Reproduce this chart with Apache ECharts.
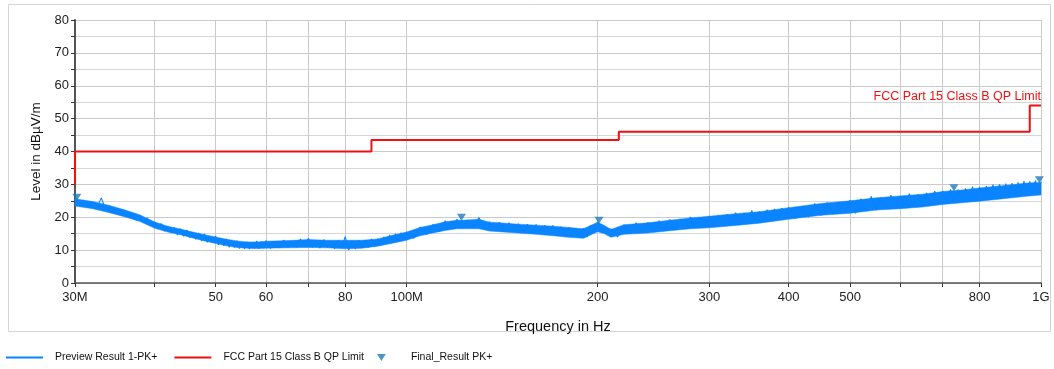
<!DOCTYPE html>
<html>
<head>
<meta charset="utf-8">
<script src="https://cdn.jsdelivr.net/npm/echarts@6/dist/echarts.min.js"></script>
<style>
  html, body { margin: 0; padding: 0; background: #fff; }
  #main { width: 1054px; height: 369px; }
</style>
</head>
<body>
<div id="main"></div>
<script>
// x ticks / labels (MHz)
var tickFreqs = [30, 40, 50, 60, 70, 80, 100, 200, 300, 400, 500, 600, 700, 800, 1000];
var labelFreqs = [30, 50, 60, 80, 100, 200, 300, 400, 500, 800, 1000];
var labelTexts = { 30: "30M", 100: "100M", 1000: "1G" };

// FCC Part 15 Class B QP limit (step line)
var limitFreq = [30, 30, 88, 88, 216, 216, 960, 960, 1000];
var limitLevel = [30, 40, 40, 43.5, 43.5, 46, 46, 54, 54];

// Final_Result PK+ markers
var finalFreq = [30.2, 122, 201, 729, 994];
var finalLevel = [26.1, 20.0, 19.1, 29.0, 31.4];

// Preview trace: band of the noise (lower / upper edge)
var bandFreq = [30, 32, 34, 36, 38, 40, 42, 44, 46, 48, 50, 52, 54, 56, 58, 60, 65, 70, 75, 80,
  85, 90, 95, 100, 105, 110, 115, 120, 125, 130, 135, 140, 150, 160, 170, 180, 190, 200, 205, 210,
  220, 240, 260, 280, 300, 330, 360, 400, 450, 500, 550, 600, 650, 700, 750, 800, 850, 900, 950, 1000];
var bandLow = [23.4, 22.6, 21.4, 20.1, 18.7, 16.7, 15.5, 14.7, 13.7, 12.8, 12.0, 11.3, 10.8, 10.6, 10.5,
  10.6, 10.7, 10.8, 10.7, 10.4, 10.6, 11.2, 12.1,
  13.0, 14.4, 15.2, 16.0, 16.5, 16.5, 16.5, 15.8, 15.6, 15.2, 14.8, 14.4, 13.9, 13.6, 15.6, 15.0, 13.9,
  14.8, 15.2, 15.9, 16.5, 16.8, 17.5, 18.2, 19.4, 20.6, 21.2, 22.2, 22.6, 23.1, 23.9, 24.4, 24.9, 25.4, 25.9, 26.4, 26.8];
var bandHigh = [25.6, 24.8, 23.6, 22.2, 20.7, 18.6, 17.3, 16.4, 15.5, 14.7, 14.0, 13.3, 12.8, 12.5, 12.5,
  12.7, 12.9, 13.2, 13.0, 13.0, 13.0, 13.4, 14.5,
  15.5, 16.9, 17.7, 18.6, 19.1, 19.2, 19.4, 18.5, 18.3, 17.9, 17.6, 17.3, 16.9, 16.5, 18.5, 17.5, 16.3,
  17.7, 18.3, 19.1, 19.8, 20.3, 21.1, 21.7, 22.9, 24.2, 25.0, 25.9, 26.5, 27.0, 27.8, 28.3, 28.9, 29.4, 29.9, 30.4, 30.6];

// Preview Result 1-PK+ trace samples (the spiky line on the band) [MHz, dBuV/m]
var previewTrace = [
  [30.0, 25.6], [30.5, 23.9], [31.0, 25.0], [31.5, 23.4], [32.0, 24.6], [32.5, 23.0],
  [33.0, 25.9], [33.5, 22.6], [34.0, 23.5], [34.5, 21.7], [35.0, 22.6], [35.5, 20.6],
  [36.0, 21.9], [36.5, 19.9], [37.0, 21.0], [37.5, 19.1], [38.0, 20.4], [38.5, 18.3],
  [39.0, 19.8], [39.5, 17.6], [40.0, 18.6], [40.5, 16.4], [41.0, 18.1], [41.5, 15.8],
  [42.0, 17.2], [42.5, 15.3], [43.0, 16.9], [43.5, 14.6], [44.0, 16.5], [44.5, 14.2],
  [45.0, 16.1], [45.5, 13.8], [46.0, 15.4], [46.5, 13.3], [47.0, 15.2], [47.5, 12.8],
  [48.0, 14.9], [48.5, 12.4], [49.0, 14.1], [49.5, 12.2], [50.0, 14.2], [50.5, 11.6],
  [51.0, 13.5], [51.5, 11.3], [52.0, 13.4], [52.5, 10.9], [53.0, 12.8], [53.5, 10.8],
  [54.0, 12.9], [54.5, 10.5], [55.0, 12.4], [55.5, 10.4], [56.0, 12.6], [56.5, 10.3],
  [57.0, 12.2], [57.5, 10.5], [58.0, 12.8], [58.5, 10.4], [59.0, 12.5], [59.5, 10.6],
  [60, 12.9], [61, 10.5], [62, 12.6], [63, 10.7], [64, 13.1], [65, 10.8],
  [66, 12.7], [67, 10.9], [68, 13.4], [69, 11.0], [70, 13.6], [71, 10.9],
  [72, 12.9], [73, 10.6], [74, 13.2], [75, 10.8], [76, 12.8], [77, 10.4],
  [78, 13.0], [79, 10.7], [80, 14.1], [81, 10.0], [82, 12.6], [83, 10.3],
  [84, 13.0], [85, 10.6], [86, 12.9], [87, 10.8], [88, 13.4], [89, 11.1],
  [90, 13.5], [91, 11.4], [92, 14.0], [93, 11.9], [94, 14.6], [95, 12.2],
  [96, 15.0], [97, 12.8], [98, 15.3], [99, 13.2],
  [100, 15.5], [102.5, 13.6], [105, 17.0], [107.5, 14.8], [110, 17.8], [112.5, 15.6],
  [115, 18.9], [117.5, 16.5], [120, 19.4], [122.5, 16.9], [125, 19.2], [127.5, 16.8],
  [130, 19.9], [132.5, 16.7], [135, 18.6], [137.5, 16.0], [140, 18.5], [142.5, 15.9],
  [145, 18.3], [147.5, 15.5], [150, 18.0], [152.5, 15.4], [155, 17.9], [157.5, 15.2],
  [160, 17.8], [162.5, 15.0], [165, 17.6], [167.5, 14.8], [170, 17.5], [172.5, 14.6],
  [175, 17.1], [177.5, 14.2], [180, 17.0], [182.5, 14.1], [185, 16.5], [187.5, 13.8],
  [190, 16.7], [192.5, 14.0], [195, 17.6], [197.5, 15.3],
  [200, 18.6], [205, 15.9], [210, 16.4], [215, 14.0], [220, 17.7], [225, 15.1],
  [230, 18.3], [235, 15.4], [240, 18.4], [245, 15.6], [250, 18.9], [255, 15.9],
  [260, 19.3], [265, 16.2], [270, 19.5], [275, 16.6], [280, 20.1], [285, 16.8],
  [290, 20.0], [295, 17.1], [300, 20.4], [305, 17.0], [310, 20.6], [315, 17.5],
  [320, 20.9], [325, 17.7], [330, 21.4], [335, 17.9], [340, 21.3], [345, 18.4],
  [350, 22.1], [355, 18.5], [360, 21.8], [365, 18.7], [370, 22.3], [375, 19.1],
  [380, 22.5], [385, 19.3], [390, 22.8], [395, 19.6],
  [400, 23.0], [410, 19.6], [420, 23.3], [430, 20.1], [440, 24.2], [450, 20.5],
  [460, 24.5], [470, 20.9], [480, 24.6], [490, 21.3], [500, 25.2], [510, 21.2],
  [520, 25.6], [530, 21.9], [540, 26.3], [550, 22.1], [560, 26.0], [570, 22.6],
  [580, 26.7], [590, 22.8], [600, 26.5], [610, 22.9], [620, 27.2], [630, 23.2],
  [640, 27.0], [650, 23.3], [660, 27.4], [670, 23.8], [680, 27.9], [690, 24.1],
  [700, 28.0], [710, 24.2], [720, 28.5], [730, 24.6], [740, 28.4], [750, 24.5],
  [760, 28.8], [770, 25.1], [780, 29.3], [790, 25.2], [800, 29.2], [810, 25.3],
  [820, 29.5], [830, 25.6], [840, 29.9], [850, 25.7], [860, 30.0], [870, 26.1],
  [880, 30.2], [890, 26.4], [900, 30.4], [910, 26.5], [920, 30.6], [930, 26.8],
  [940, 31.0], [950, 26.9], [960, 30.9], [970, 27.1], [980, 31.2], [990, 27.4],
  [1000, 30.8]
];

var BLUE = "#0a84ff";
var RED = "#f01010";
var MARK = "#1f7bb8";

var chart = echarts.init(document.getElementById("main"));

var limitData = limitFreq.map(function (f, i) { return [f, limitLevel[i]]; });
var finalData = finalFreq.map(function (f, i) { return [f, finalLevel[i]]; });

// band polygon: upper edge left->right, lower edge right->left, placed by the axes
function renderBand(params, api) {
  if (params.dataIndex !== 0) return;
  var pts = [];
  for (var i = 0; i < bandFreq.length; i++) pts.push(api.coord([bandFreq[i], bandHigh[i]]));
  for (var j = bandFreq.length - 1; j >= 0; j--) pts.push(api.coord([bandFreq[j], bandLow[j]]));
  return {
    type: "polygon",
    shape: { points: pts },
    style: { fill: BLUE, stroke: BLUE, lineWidth: 0.5 }
  };
}

var frame = {
  type: "rect",
  shape: { x: 8.5, y: 4.5, width: 1042, height: 327 },
  style: { fill: "none", stroke: "#d4d4d4", lineWidth: 1 },
  silent: true,
  z: -1
};

var legendText = {
  fontFamily: "Liberation Sans, Arial, sans-serif",
  fontSize: 10.5,
  color: "#111",
  padding: [0, 0, 0, 7]
};

var option = {
  animation: false,
  textStyle: { fontFamily: "Liberation Sans, Arial, sans-serif" },
  grid: { left: 75, right: 13, top: 20, bottom: 86 },
  graphic: [frame],
  legend: [
    {
      left: 0,
      top: 347,
      itemWidth: 37,
      itemHeight: 8,
      itemGap: 16,
      textStyle: legendText,
      data: [
        { name: "Preview Result 1-PK+", itemStyle: { opacity: 0 } },
        { name: "FCC Part 15 Class B QP Limit", itemStyle: { opacity: 0 } }
      ]
    },
    {
      left: 372,
      top: 347,
      itemWidth: 9,
      itemHeight: 7,
      textStyle: { fontFamily: legendText.fontFamily, fontSize: 10.5, color: "#111", padding: [0, 0, 0, 20] },
      data: [{ name: "Final_Result PK+", icon: "path://M0,0 L10,0 L5,8 Z" }]
    }
  ],
  xAxis: {
    type: "log",
    logBase: 10,
    min: 30,
    max: 1000,
    name: "Frequency in Hz",
    nameLocation: "middle",
    nameGap: 36,
    nameTextStyle: { fontSize: 14.5, color: "#111" },
    axisLine: { show: true, onZero: false, lineStyle: { color: "#555", width: 1.5 } },
    axisTick: { show: true, length: 4, customValues: tickFreqs, lineStyle: { color: "#333" } },
    axisLabel: {
      customValues: labelFreqs,
      fontSize: 13,
      color: "#222",
      margin: 8,
      formatter: function (v) {
        var k = Math.round(v);
        return labelTexts[k] || String(k);
      }
    },
    splitLine: { show: true, lineStyle: { color: "#cacaca", width: 1 } },
    minorTick: { show: false },
    minorSplitLine: { show: false }
  },
  yAxis: {
    type: "value",
    min: 0,
    max: 80,
    interval: 10,
    name: "Level in dBµV/m",
    nameLocation: "middle",
    nameGap: 32,
    nameTextStyle: { fontSize: 13.5, color: "#111" },
    axisLine: { show: true, lineStyle: { color: "#555", width: 2 } },
    axisTick: { show: true, length: 4, lineStyle: { color: "#333" } },
    minorTick: { show: true, splitNumber: 2, length: 4, lineStyle: { color: "#333" } },
    axisLabel: { fontSize: 13, color: "#222", margin: 6 },
    splitLine: { show: true, lineStyle: { color: "#cacaca", width: 1 } },
    minorSplitLine: { show: true, lineStyle: { color: "#d6d6d6", width: 1 } }
  },
  series: [
    {
      name: "band",
      type: "custom",
      renderItem: renderBand,
      data: [[bandFreq[0], bandLow[0]]],
      silent: true,
      z: 2
    },
    {
      name: "Preview Result 1-PK+",
      type: "line",
      data: previewTrace,
      symbol: "none",
      lineStyle: { color: BLUE, width: 1.1 },
      itemStyle: { color: BLUE },
      z: 3
    },
    {
      name: "FCC Part 15 Class B QP Limit",
      type: "line",
      data: limitData,
      symbol: "none",
      lineStyle: { color: RED, width: 2 },
      itemStyle: { color: RED },
      z: 4
    },
    {
      name: "Final_Result PK+",
      type: "scatter",
      data: finalData,
      symbol: "triangle",
      symbolRotate: 180,
      symbolSize: [9, 7],
      itemStyle: { color: MARK },
      z: 5
    }
  ]
};

chart.setOption(option);

// red limit caption, anchored at the end of the limit line
var end = chart.convertToPixel({ gridIndex: 0 }, limitData[limitData.length - 1]);
chart.setOption({
  graphic: [
    frame,
    {
      type: "text",
      x: end[0],
      y: end[1] - 2,
      silent: true,
      style: {
        text: "FCC Part 15 Class B QP Limit",
        fill: RED,
        font: "12.5px Liberation Sans, Arial, sans-serif",
        align: "right",
        verticalAlign: "bottom"
      },
      z: 6
    }
  ]
});
</script>
</body>
</html>
